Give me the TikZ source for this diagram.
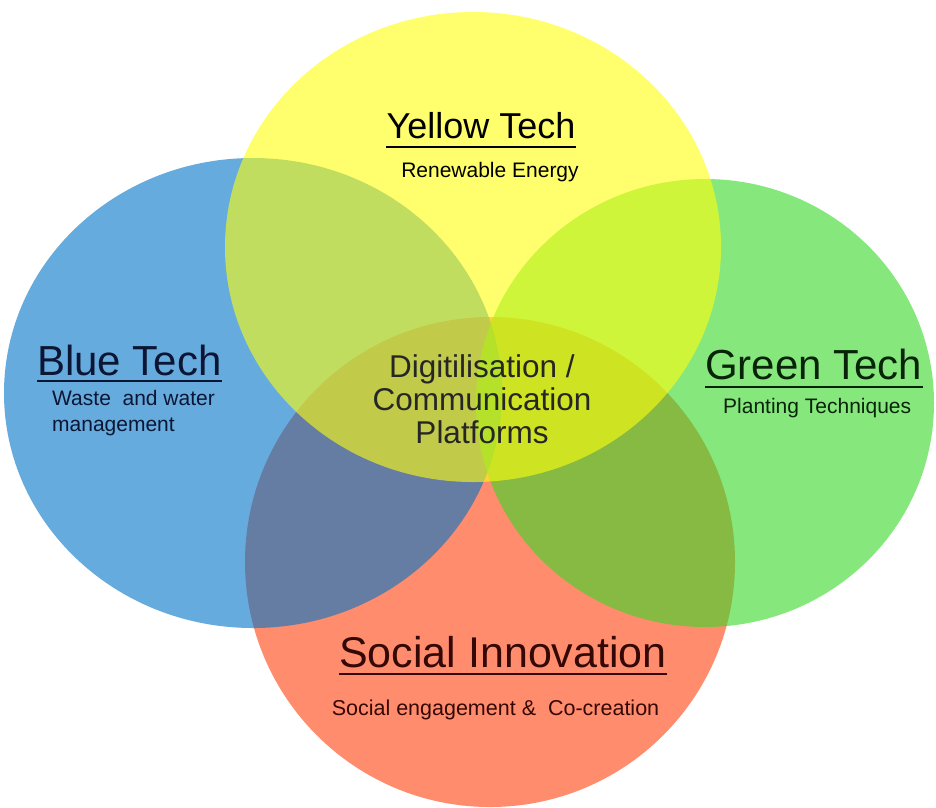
\documentclass[tikz,border=0pt]{standalone}
\usepackage{fontspec}
\setmainfont{Liberation Sans}
\usetikzlibrary{shapes.geometric}
\definecolor{cred}{RGB}{255,64,13}
\definecolor{cblue}{RGB}{0,115,199}
\definecolor{cgreen}{RGB}{54,217,38}
\definecolor{cyellow}{RGB}{255,255,13}
\definecolor{tblue}{RGB}{12,22,52}
\definecolor{tgreen}{RGB}{8,36,8}
\definecolor{tred}{RGB}{52,8,4}
\tikzset{
  venn/.style={ellipse, inner sep=0pt, draw=none, fill opacity=0.6},
  title/.style={inner sep=0pt, anchor=base, font=\fontsize{42}{46}\selectfont},
  sub/.style={inner sep=0pt, anchor=base, font=\fontsize{21}{27}\selectfont},
  uline/.style={line width=2.6pt}
}
\begin{document}
\begin{tikzpicture}[x=1pt,y=-1pt]
\useasboundingbox (0,0) rectangle (936,807);
\fill[white] (0,0) rectangle (936,807);
% circles: red at bottom, then blue, green, yellow on top
\node[venn, fill=cred, minimum width=490, minimum height=490] (red) at (490,562) {};
\node[venn, fill=cblue, minimum width=498, minimum height=470] (blue) at (253,393) {};
\node[venn, fill=cgreen, minimum width=458, minimum height=448] (green) at (705,403) {};
\node[venn, fill=cyellow, minimum width=496, minimum height=470] (yellow) at (473,247) {};
% Yellow Tech
\node[title, font=\fontsize{36}{40}\selectfont] (yt) at (481,138) {Yellow Tech};
\draw[uline] ([yshift=-9]yt.base west) -- ([yshift=-9]yt.base east);
\node[sub] (ye) at (490,177) {Renewable Energy};
% Blue Tech
\node[title, anchor=base west, text=tblue] (bt) at (37,375) {Blue Tech};
\draw[uline, tblue] ([yshift=-6]bt.base west) -- ([yshift=-6]bt.base east);
\node[sub, anchor=base west, text=tblue, align=left] (bw) at (52,405) {Waste\ \ and water};
\node[sub, anchor=base west, text=tblue] (bm) at (52,431) {management};
% Green Tech
\node[title, anchor=base west, text=tgreen] (gt) at (705,379) {Green Tech};
\draw[uline, tgreen] ([yshift=-8]gt.base west) -- ([yshift=-8]gt.base east);
\node[sub, anchor=base west, text=tgreen] (gp) at (723,413) {Planting Techniques};
% Social Innovation
\node[title, font=\fontsize{43}{47}\selectfont, text=tred] (st) at (503,667) {Social Innovation};
\draw[uline, tred] ([yshift=-7]st.base west) -- ([yshift=-7]st.base east);
\node[sub, font=\fontsize{21.5}{27}\selectfont, text=tred] (se) at (495.5,715) {Social engagement \&\ \ Co-creation};
% centre
\node[inner sep=0pt, anchor=base, font=\fontsize{31.5}{33}\selectfont, text=black!85] (c1) at (482,377) {Digitilisation /};
\node[inner sep=0pt, anchor=base, font=\fontsize{31.5}{33}\selectfont, text=black!85] (c2) at (482,410) {Communication};
\node[inner sep=0pt, anchor=base, font=\fontsize{31.5}{33}\selectfont, text=black!85] (c3) at (482,443) {Platforms};
\end{tikzpicture}
\end{document}
